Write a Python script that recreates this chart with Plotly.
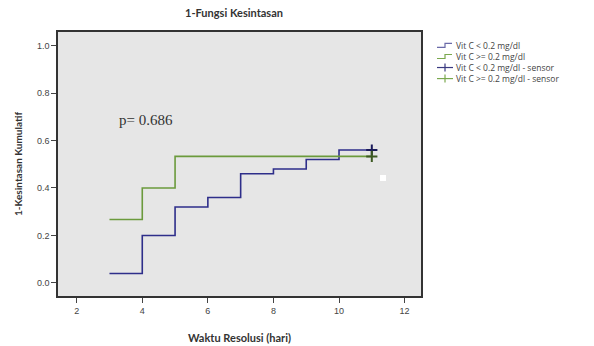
import plotly.graph_objects as go

# Data
time_low = [3, 4, 5, 6, 7, 8, 9, 10, 11]
cum_low = [0.04, 0.20, 0.32, 0.36, 0.46, 0.48, 0.52, 0.56, 0.56]
time_high = [3, 4, 5, 11]
cum_high = [0.267, 0.40, 0.533, 0.533]
censor_low_t = [11]
censor_low_v = [0.56]
censor_high_t = [11]
censor_high_v = [0.533]
x_ticks = [2, 4, 6, 8, 10, 12]
y_ticks = [0.0, 0.2, 0.4, 0.6, 0.8, 1.0]
names = ["Vit C < 0.2 mg/dl", "Vit C >= 0.2 mg/dl",
         "Vit C < 0.2 mg/dl - sensor", "Vit C >= 0.2 mg/dl - sensor"]
p_text = "p= 0.686"

BLUE = "#2e2e8a"
GREEN = "#6b9a3c"
W, H = 594, 346
ML, MR, MT, MB = 58, 173, 32, 50
PW, PH = W - ML - MR, H - MT - MB

def px(x):
    return (x - ML) / PW

def py(y):
    return (H - MB - y) / PH

fig = go.Figure()
fig.add_trace(go.Scatter(x=time_low, y=cum_low, mode="lines", line_shape="hv",
                         line=dict(color=BLUE, width=1.6), name=names[0]))
fig.add_trace(go.Scatter(x=time_high, y=cum_high, mode="lines", line_shape="hv",
                         line=dict(color=GREEN, width=1.6), name=names[1]))
fig.add_trace(go.Scatter(x=censor_low_t, y=censor_low_v, mode="markers",
                         marker=dict(symbol="cross-thin", size=8,
                                     line=dict(color="#1a1a5a", width=2)),
                         name=names[2]))
fig.add_trace(go.Scatter(x=censor_high_t, y=censor_high_v, mode="markers",
                         marker=dict(symbol="cross-thin", size=8,
                                     line=dict(color="#3d5a22", width=2)),
                         name=names[3]))

fig.add_annotation(x=3.23, y=0.686, xref="x", yref="y", text=p_text,
                   showarrow=False, xanchor="left", yanchor="middle",
                   font=dict(family="Liberation Serif", size=15, color="#333333"))

# white artefact square
fig.add_shape(type="rect", x0=px(380), x1=px(386), y0=py(181), y1=py(175),
              xref="paper", yref="paper", fillcolor="white", line=dict(width=0))

# manual legend: icons + one multi-line text block
LEG_FS = 8.5
LEG_C = 62.0
step = LEG_FS * 1.3
leg_rows = [LEG_C + (i - 1.5) * step for i in range(len(names))]
leg_cols = ["#6a6aa8", "#7aa84e", "#3a3a80", "#7aa84e"]
for i, (ry, col) in enumerate(zip(leg_rows, leg_cols)):
    if i < 2:
        fig.add_shape(type="path", xref="paper", yref="paper",
                      path=f"M {px(437)},{py(ry+2)} L {px(445)},{py(ry+2)} L {px(445)},{py(ry-2)} L {px(452)},{py(ry-2)}",
                      line=dict(color=col, width=1.2))
    else:
        fig.add_shape(type="line", xref="paper", yref="paper",
                      x0=px(437), x1=px(453), y0=py(ry), y1=py(ry),
                      line=dict(color=col, width=1.2))
        fig.add_shape(type="line", xref="paper", yref="paper",
                      x0=px(445), x1=px(445), y0=py(ry - 4), y1=py(ry + 4),
                      line=dict(color=col, width=1.2))
fig.add_annotation(x=px(455), y=py(LEG_C), xref="paper", yref="paper",
                   text="<br>".join(names), align="left",
                   showarrow=False, xanchor="left", yanchor="middle", borderpad=0,
                   font=dict(family="Open Sans", size=LEG_FS, color="#444444"))

fig.update_layout(
    width=W, height=H,
    margin=dict(l=ML, r=MR, t=MT, b=MB, autoexpand=False),
    paper_bgcolor="white",
    plot_bgcolor="#e6e6e6",
    title=dict(text="<b>1-Fungsi Kesintasan</b>", x=234 / W, xanchor="center",
               y=1 - 13 / H, yanchor="middle",
               font=dict(family="Lato", size=11, color="#333333")),
    showlegend=False,
    font=dict(family="Liberation Sans", size=9, color="#444444"),
)
fig.update_xaxes(range=[1.43, 12.5], tickvals=x_ticks, ticks="outside", ticklen=5,
                 tickcolor="#444444", showgrid=False, zeroline=False, automargin=False,
                 showline=True, linecolor="#333333", linewidth=1.5, mirror=True,
                 title=dict(text="<b>Waktu Resolusi (hari)</b>", standoff=20,
                            font=dict(family="Lato", size=11, color="#333333")))
fig.update_yaxes(range=[-0.055, 1.057], tickvals=y_ticks, tickformat=".1f",
                 ticks="outside", ticklen=5, tickcolor="#444444", automargin=False,
                 showgrid=False, zeroline=False,
                 showline=True, linecolor="#333333", linewidth=1.5, mirror=True,
                 title=dict(text="<b>1-Kesintasan Kumulatif</b>", standoff=12,
                            font=dict(family="Lato", size=10, color="#333333")))

fig.write_html("out.html", config={"displayModeBar": False},
               post_script="document.body.style.margin='0px';document.body.style.padding='0px';")
